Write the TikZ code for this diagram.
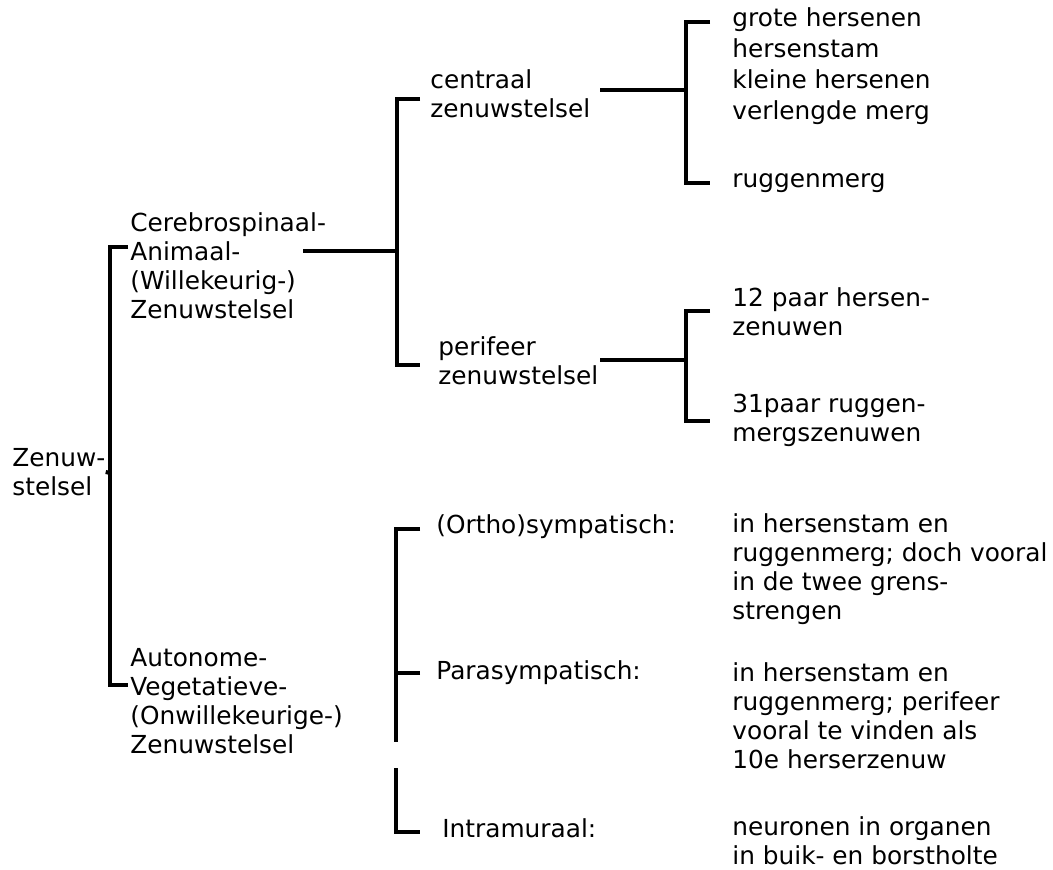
\documentclass[tikz,border=0pt]{standalone}
\usepackage{fontspec}
\setmainfont{DejaVu Sans}
\usetikzlibrary{positioning}

\begin{document}
\begin{tikzpicture}[x=0.5pt, y=-0.5pt,
lbl/.style={anchor=west, inner sep=0pt, align=left, font=\fontsize{12.4}{14.5}\selectfont},
lijst/.style={lbl, font=\fontsize{12.4}{15.5}\selectfont},
tak/.style={line width=2pt}]

\useasboundingbox (0,0) rectangle (1053,870);

\node (zenuw) [lbl] at (12,472) {Zenuw-\\stelsel};
\node (cereb) [lbl] at (130,266) {Cerebrospinaal-\\Animaal-\\(Willekeurig-)\\Zenuwstelsel};
\node (auton) [lbl] at (130,701) {Autonome-\\Vegetatieve-\\(Onwillekeurige-)\\Zenuwstelsel};

%main bracket
\coordinate (zsplit) at (110,473);
\coordinate (z1) at (128,247);
\coordinate (z2) at (128,685);
\draw [tak] (z1) -| (zsplit) |- (z2);
\draw [tak] (zenuw.east) -- (zsplit);

%cerebrospinaal
\node (centraal) [lbl] at (430,94) {centraal\\zenuwstelsel};
\node (perifeer) [lbl] at (438,361) {perifeer\\zenuwstelsel};
\coordinate (c0) at (303,251);
\coordinate (csplit) at (397,251);
\coordinate (c1) at (420,99);
\coordinate (c2) at (420,365);
\draw [tak] (c0) -- (csplit);
\draw [tak] (c1) -| (csplit) |- (c2);

%centraal
\node (hersenen) [lijst] at (732,66) {grote hersenen\\hersenstam\\kleine hersenen\\verlengde merg};
\node (rugmerg) [lbl] at (732,183) {ruggenmerg};
\coordinate (k0) at (600,90);
\coordinate (ksplit) at (686,90);
\coordinate (k1) at (710,22);
\coordinate (k2) at (710,183);
\draw [tak] (k0) -- (ksplit);
\draw [tak] (k1) -| (ksplit) |- (k2);

%perifeer
\node (hzenuw) [lbl] at (732,312) {12 paar hersen-\\zenuwen};
\node (rzenuw) [lbl] at (732,420) {31paar ruggen-\\mergszenuwen};
\coordinate (p0) at (600,360);
\coordinate (psplit) at (686,360);
\coordinate (p1) at (710,311);
\coordinate (p2) at (710,421);
\draw [tak] (p0) -- (psplit);
\draw [tak] (p1) -| (psplit) |- (p2);

%autonoom
\node (ortho) [lbl] at (436,527) {(Ortho)sympatisch:};
\node (para) [lbl] at (436,673) {Parasympatisch:};
\node (intra) [lbl] at (442,828) {Intramuraal:};
\node (orthotxt) [lbl] at (732,569) {in hersenstam en\\ruggenmerg; doch vooral\\in de twee grens-\\strengen};
\node (paratxt) [lbl] at (732,716) {in hersenstam en\\ruggenmerg; perifeer\\vooral te vinden als\\10e herserzenuw};
\node (intratxt) [lbl] at (732,841) {neuronen in organen\\in buik- en borstholte};
\coordinate (a1) at (420,529);
\coordinate (a2) at (420,673);
\coordinate (a3) at (396,742);
\coordinate (a4) at (396,768);
\coordinate (a5) at (420,832);
\draw [tak] (a1) -| (a3);
\draw [tak] (a2) -- (a2 -| a3);
\draw [tak] (a4) |- (a5);

\end{tikzpicture}
\end{document}
